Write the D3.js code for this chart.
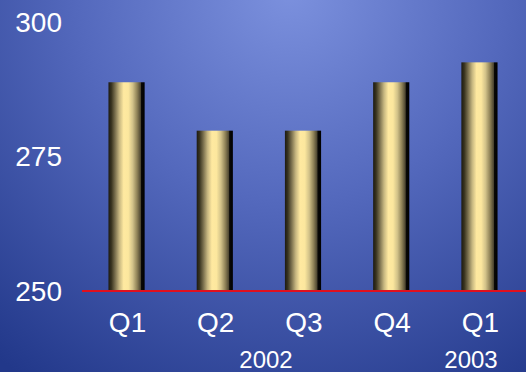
<!DOCTYPE html>
<html>
<head>
<meta charset="utf-8">
<script src="https://cdn.jsdelivr.net/npm/d3@7"></script>
<style>
  html, body { margin: 0; padding: 0; background: #2a3f8e; }
  svg { display: block; }
  text { font-family: "Liberation Sans", Arial, sans-serif; fill: #ffffff; }
</style>
</head>
<body>
<script>
// Quarterly values, Q1 2002 – Q1 2003
const quarters = ["Q1", "Q2", "Q3", "Q4", "Q1 "];
const values = [288.8, 279.8, 279.8, 288.8, 292.5];
const yTicks = [250, 275, 300];
const years = [
  { label: "2002", x: 266 },
  { label: "2003", x: 471 }
];

const W = 526, H = 372;
const svg = d3.select("body").append("svg").attr("width", W).attr("height", H);
const defs = svg.append("defs");

// Blue backdrop, brightest near the top centre
const bg = defs.append("radialGradient")
  .attr("id", "bg").attr("gradientUnits", "userSpaceOnUse")
  .attr("cx", 290).attr("cy", -10).attr("r", 470);
bg.append("stop").attr("offset", "0%").attr("stop-color", "#7c91de");
bg.append("stop").attr("offset", "45%").attr("stop-color", "#5469bd");
bg.append("stop").attr("offset", "100%").attr("stop-color", "#22388a");
svg.append("rect").attr("width", W).attr("height", H).attr("fill", "url(#bg)");

// Gold cylinder shading across each bar
const gold = defs.append("linearGradient").attr("id", "gold")
  .attr("x1", "0%").attr("x2", "100%").attr("y1", "0%").attr("y2", "0%");
[
  [0, "#1c1a12"], [8, "#38331f"], [18, "#776d4c"], [30, "#c6b680"],
  [42, "#ffe9a0"], [55, "#fce79e"], [67, "#d2c289"], [79, "#908358"],
  [89, "#4c4530"], [91, "#0a0906"], [100, "#000000"]
].forEach(([o, c]) => gold.append("stop").attr("offset", o + "%").attr("stop-color", c));

const x = d3.scaleBand().domain(quarters).range([82, 524]).paddingInner(0.59).paddingOuter(0.3);
const y = d3.scaleLinear().domain([250, 300]).range([291, 22]);

// Bars
svg.append("g").selectAll("rect").data(values).join("rect")
  .attr("x", (d, i) => x(quarters[i]))
  .attr("y", d => y(d))
  .attr("width", x.bandwidth())
  .attr("height", d => y(250) - y(d))
  .attr("fill", "url(#gold)");

// Baseline
svg.append("line")
  .attr("x1", 82).attr("x2", W)
  .attr("y1", y(250)).attr("y2", y(250))
  .attr("stroke", "#e0101e").attr("stroke-width", 2);

// Value axis labels
svg.append("g").selectAll("text").data(yTicks).join("text")
  .attr("x", 62).attr("y", d => y(d) + 9.5)
  .attr("text-anchor", "end").attr("font-size", 28)
  .text(d => d);

// Quarter labels
svg.append("g").selectAll("text").data(quarters).join("text")
  .attr("x", d => x(d) + x.bandwidth() / 2 + 1)
  .attr("y", 332)
  .attr("text-anchor", "middle").attr("font-size", 28)
  .text(d => d.trim());

// Year labels
svg.append("g").selectAll("text").data(years).join("text")
  .attr("x", d => d.x).attr("y", 368)
  .attr("text-anchor", "middle").attr("font-size", 24)
  .text(d => d.label);
</script>
</body>
</html>
